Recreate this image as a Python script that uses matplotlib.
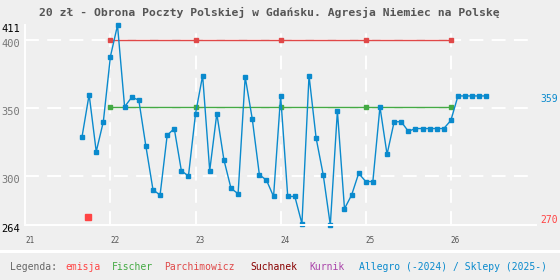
import matplotlib
matplotlib.use("Agg")
import matplotlib.pyplot as plt
import matplotlib.transforms as mtransforms
import numpy as np

plt.rcParams['font.family'] = ['DejaVu Sans Mono']
plt.rcParams['lines.scale_dashes'] = False

# dane: notowania miesięczne od 2021-09
start = 21 + 8/12
allegro = [329, 360, 318, 340, 388, 411, 351, 358, 356, 322, 290, 286, 330, 335,
           304, 300, 346, 374, 304, 346, 312, 291, 287, 373, 342, 301, 297, 285,
           359, 285, 285, 265, 374, 328, 301, 264, 348, 276, 286, 302, 296, 296,
           351, 316, 340, 340, 333, 335, 335, 335, 335, 335, 341, 359, 359, 359,
           359, 359]
allegro_x = start + np.arange(len(allegro)) / 12

emisja_x = [21.74]
emisja_y = [270]

parch_x = [22, 23, 24, 25, 26]
parch_y = [400, 400, 400, 400, 400]

fischer_x = [22, 23, 24, 25, 26]
fischer_y = [351, 351, 351, 351, 351]

xticks = [21, 22, 23, 24, 25, 26]
yticks = [264, 300, 350, 400, 411]

tytul = "20 zł - Obrona Poczty Polskiej w Gdańsku. Agresja Niemiec na Polskę"

BG = '#efefef'
BLUE = '#0a8acd'
RED = '#ff4444'
PARCH = '#e04848'
GREEN = '#44aa44'

fig = plt.figure(figsize=(5.6, 2.8), dpi=100, facecolor=BG)
ax = fig.add_axes([25.3/560, 55/280, 510.7/560, 199.7/280], facecolor=BG)

ax.set_xlim(21, 27)
ax.set_ylim(264, 411)

# siatka
ax.set_xticks(xticks)
ax.set_yticks(yticks)
ax.grid(True, color='white', linewidth=1.4, linestyle=(0, (10, 6)))
for i, gl in enumerate(ax.yaxis.get_gridlines()):
    if yticks[i] in (264, 411):
        gl.set_visible(False)
ax.xaxis.get_gridlines()[0].set_visible(False)
ax.set_axisbelow(True)

for s in ['top', 'right']:
    ax.spines[s].set_visible(False)
for s in ['left', 'bottom']:
    ax.spines[s].set_color('white')
    ax.spines[s].set_linewidth(1.4)

ax.tick_params(length=0)
ax.set_xticklabels([str(t) for t in xticks], fontsize=5.5, color='#555555', ha='left')
ax.tick_params(axis='x', pad=8)
ax.set_yticklabels([str(t) for t in yticks], fontsize=7.5, color='#777777')
ax.tick_params(axis='y', pad=4)
for lbl, t in zip(ax.get_yticklabels(), yticks):
    if t in (264, 411):
        lbl.set_color('black')
    lbl.set_transform(lbl.get_transform() + mtransforms.ScaledTranslation(0, -3/100, fig.dpi_scale_trans))

# serie
ax.plot(parch_x, parch_y, color=PARCH, lw=1.0, marker='s', ms=3, clip_on=False)
ax.plot(fischer_x, fischer_y, color=GREEN, lw=1.0, marker='s', ms=3, clip_on=False)
ax.plot(allegro_x, allegro, color=BLUE, lw=1.0, marker='s', ms=2.6, clip_on=False)
ax.plot(emisja_x, emisja_y, color=RED, lw=0, marker='s', ms=4, clip_on=False)

# etykiety po prawej
trans = mtransforms.blended_transform_factory(ax.transAxes, ax.transData)
off = mtransforms.ScaledTranslation(0, -3/100, fig.dpi_scale_trans)
ax.text(1.009, allegro[-1], str(allegro[-1]), transform=trans + off, color=BLUE,
        fontsize=7, va='center', ha='left')
ax.text(1.009, emisja_y[0], str(emisja_y[0]), transform=trans + off, color=RED,
        fontsize=7, va='center', ha='left')

# tytuł
fig.text(269/560, 1 - 12/280, tytul, ha='center', va='center', fontsize=8.2,
         fontweight='bold', color='#555555')

# pasek i legenda
fig.patches.append(plt.Rectangle((0, 27/280), 1, 3/280, transform=fig.transFigure,
                                 facecolor='white', edgecolor='none'))
legenda = [("Legenda:", '#666666', 10),
           ("emisja", RED, 65),
           ("Fischer", GREEN, 111.7),
           ("Parchimowicz", PARCH, 164.3),
           ("Suchanek", '#880000', 250),
           ("Kurnik", '#aa44aa', 309.3),
           ("Allegro (-2024) / Sklepy (2025-)", BLUE, 359.3)]
for txt, col, px in legenda:
    fig.text(px/560, 1 - 267.3/280, txt, color=col, fontsize=7, ha='left', va='center')

fig.savefig('out.png', dpi=100, facecolor=BG)
